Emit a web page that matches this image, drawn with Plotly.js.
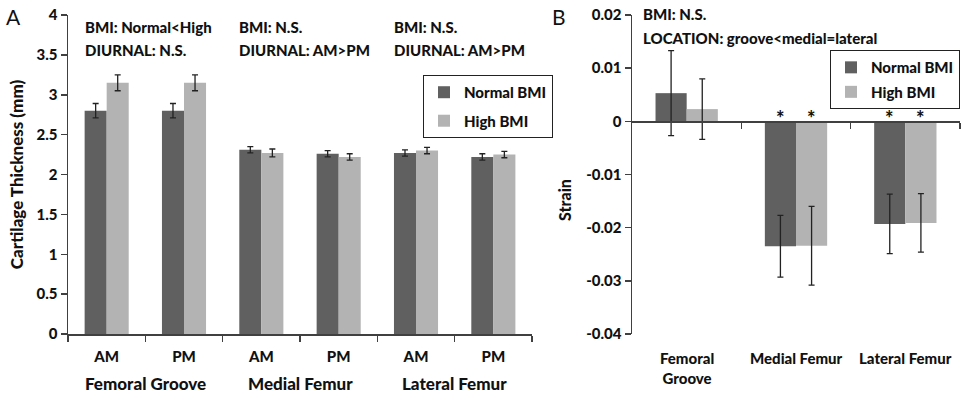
<!DOCTYPE html>
<html>
<head>
<meta charset="utf-8">
<script src="https://cdn.plot.ly/plotly-3.0.1.min.js"></script>
<style>html,body{margin:0;padding:0;background:#fff;}#chart{width:968px;height:398px;}</style>
</head>
<body>
<div id="chart"></div>
<script>
// ---- Panel A data: cartilage thickness (mm) ----
const timeLabels = ["AM", "PM", "AM", "PM", "AM", "PM"];
const regionsA = ["Femoral Groove", "Medial Femur", "Lateral Femur"];
const thickNormal = [2.80, 2.80, 2.31, 2.26, 2.27, 2.22];
const thickNormalErr = [0.09, 0.09, 0.04, 0.04, 0.04, 0.04];
const thickHigh = [3.15, 3.15, 2.27, 2.22, 2.30, 2.25];
const thickHighErr = [0.10, 0.10, 0.05, 0.04, 0.04, 0.04];
const statsBMI_A = ["BMI: Normal&lt;High", "BMI: N.S.", "BMI: N.S."];
const statsDiurnal_A = ["DIURNAL: N.S.", "DIURNAL: AM&gt;PM", "DIURNAL: AM&gt;PM"];

// ---- Panel B data: strain ----
const regionsB = ["Femoral<br>Groove", "Medial Femur", "Lateral Femur"];
const strainNormal = [0.0053, -0.0235, -0.0193];
const strainNormalErr = [0.0080, 0.0058, 0.0056];
const strainHigh = [0.0023, -0.0234, -0.0191];
const strainHighErr = [0.0057, 0.0074, 0.0055];
const sigNormal = ["", "*", "*"];
const sigHigh = ["", "*", "*"];
const strainTickVals = [-0.04, -0.03, -0.02, -0.01, 0, 0.01, 0.02];
const strainTickText = ["-0.04", "-0.03", "-0.02", "-0.01", "0", "0.01", "0.02"];

const DARK = "#606060", LIGHT = "#b3b3b3", AX = "#404040";
const FONT = "Lato, 'Open Sans', sans-serif";
const W = 900;
const idxA = timeLabels.map((_, i) => i);
const idxB = regionsB.map((_, i) => i);

const errStyle = (arr) => ({type: "data", array: arr, visible: true, color: "#222", thickness: 1.3, width: 3});

const traces = [
  {type: "bar", x: idxA, y: thickNormal, name: "Normal BMI", marker: {color: DARK},
   error_y: errStyle(thickNormalErr), xaxis: "x", yaxis: "y", legend: "legend", legendgroup: "a1", hoverinfo: "skip"},
  {type: "bar", x: idxA, y: thickHigh, name: "High BMI", marker: {color: LIGHT},
   error_y: errStyle(thickHighErr), xaxis: "x", yaxis: "y", legend: "legend", legendgroup: "a2", hoverinfo: "skip"},
  {type: "bar", x: idxB, y: strainNormal, name: "Normal BMI", marker: {color: DARK},
   error_y: errStyle(strainNormalErr), xaxis: "x2", yaxis: "y2", legend: "legend2", legendgroup: "b1", hoverinfo: "skip"},
  {type: "bar", x: idxB, y: strainHigh, name: "High BMI", marker: {color: LIGHT},
   error_y: errStyle(strainHighErr), xaxis: "x2", yaxis: "y2", legend: "legend2", legendgroup: "b2", hoverinfo: "skip"}
];

const bargap = 0.43;
const half = (1 - bargap) / 4;

const txt = (size) => ({family: FONT, size: size, color: "#111", weight: W});

const annotations = [];
// Panel letters
annotations.push({text: "A", xref: "paper", yref: "paper", x: -0.061, y: 0.995, xanchor: "center", yanchor: "middle",
  showarrow: false, font: {family: FONT, size: 21, color: "#111"}});
annotations.push({text: "B", xref: "paper", yref: "paper", x: 0.550, y: 0.995, xanchor: "center", yanchor: "middle",
  showarrow: false, font: {family: FONT, size: 21, color: "#111"}});
// Panel A stats text and region labels
regionsA.forEach((r, g) => {
  annotations.push({text: statsBMI_A[g], xref: "x", yref: "paper", x: 2 * g - 0.31, y: 0.962,
    xanchor: "left", yanchor: "middle", showarrow: false, font: txt(15)});
  annotations.push({text: statsDiurnal_A[g], xref: "x", yref: "paper", x: 2 * g - 0.31, y: 0.890,
    xanchor: "left", yanchor: "middle", showarrow: false, font: txt(15)});
  annotations.push({text: r, xref: "x", yref: "paper", x: 2 * g + 0.5, y: -0.154,
    xanchor: "center", yanchor: "middle", showarrow: false, font: txt(17)});
});
// Panel B stats text
annotations.push({text: "BMI: N.S.", xref: "x2", yref: "paper", x: -0.42, y: 1.003,
  xanchor: "left", yanchor: "middle", showarrow: false, font: txt(15)});
annotations.push({text: "LOCATION: groove&lt;medial=lateral", xref: "x2", yref: "paper", x: -0.42, y: 0.928,
  xanchor: "left", yanchor: "middle", showarrow: false, font: txt(15)});
// Panel B y title
annotations.push({text: "Strain", xref: "paper", yref: "paper", x: 0.556, y: 0.42, textangle: -90,
  xanchor: "center", yanchor: "middle", showarrow: false, font: txt(16)});
// Panel B region labels
regionsB.forEach((r, i) => {
  annotations.push({text: r, xref: "x2", yref: "paper", x: i, y: -0.04,
    xanchor: "center", yanchor: "top", showarrow: false, font: txt(15)});
});
// Significance stars
idxB.forEach(i => {
  if (sigNormal[i]) annotations.push({text: sigNormal[i], xref: "x2", yref: "y2", x: i - half, y: 0,
    xanchor: "center", yanchor: "bottom", yshift: -11, showarrow: false, font: txt(20)});
  if (sigHigh[i]) annotations.push({text: sigHigh[i], xref: "x2", yref: "y2", x: i + half, y: 0,
    xanchor: "center", yanchor: "bottom", yshift: -11, showarrow: false, font: txt(20)});
});

const tickFont = txt(15);

const layout = {
  width: 968, height: 398,
  margin: {l: 68, r: 8, t: 15, b: 64},
  paper_bgcolor: "#fff", plot_bgcolor: "#fff",
  barmode: "group", bargap: bargap, bargroupgap: 0,
  font: {family: FONT, color: "#111"},
  showlegend: true,
  xaxis: {
    domain: [0, 0.5202], range: [-0.5, 5.5], anchor: "y",
    tickmode: "array", tickvals: idxA, ticktext: timeLabels, ticks: "",
    ticklabelstandoff: 8,
    tickfont: tickFont,
    showline: true, linecolor: AX, linewidth: 1.5, showgrid: false, zeroline: false,
    minor: {tickmode: "array", tickvals: [-0.5, 0.5, 1.5, 2.5, 3.5, 4.5, 5.5], ticks: "outside", ticklen: 6, tickwidth: 1.5, tickcolor: AX, showgrid: false}
  },
  yaxis: {
    domain: [0, 1], range: [0, 4], anchor: "x", dtick: 0.5, tick0: 0,
    ticks: "outside", ticklen: 6, tickwidth: 1.5, tickcolor: AX,
    tickfont: tickFont,
    showline: true, linecolor: AX, linewidth: 1.5, showgrid: false, zeroline: false,
    title: {text: "Cartilage Thickness (mm)", font: txt(17), standoff: 8}
  },
  xaxis2: {
    domain: [0.6323, 1.0], range: [-0.5, 2.5], anchor: "free", position: 2 / 3,
    tickmode: "array", tickvals: [0.5, 1.5, 2.5], ticktext: ["", "", ""],
    ticks: "outside", ticklen: 6, tickwidth: 1.5, tickcolor: AX, showticklabels: false,
    showline: true, linecolor: AX, linewidth: 1.5, showgrid: false, zeroline: false
  },
  yaxis2: {
    domain: [0, 1], range: [-0.04, 0.02], anchor: "x2",
    tickmode: "array", tickvals: strainTickVals, ticktext: strainTickText,
    ticks: "outside", ticklen: 6, tickwidth: 1.5, tickcolor: AX,
    tickfont: tickFont,
    showline: true, linecolor: AX, linewidth: 1.5, showgrid: false, zeroline: false
  },
  legend: {
    x: 0.5437, y: 0.812, xanchor: "right", yanchor: "top",
    bordercolor: "#222", borderwidth: 1, bgcolor: "#fff",
    font: txt(15),
    tracegroupgap: 6, itemwidth: 30
  },
  legend2: {
    x: 1.0, y: 0.890, xanchor: "right", yanchor: "top",
    bordercolor: "#222", borderwidth: 1, bgcolor: "#fff",
    font: txt(15),
    tracegroupgap: 2, itemwidth: 30
  },
  annotations: annotations
};

Plotly.newPlot("chart", traces, layout, {displayModeBar: false, staticPlot: true});
</script>
</body>
</html>
